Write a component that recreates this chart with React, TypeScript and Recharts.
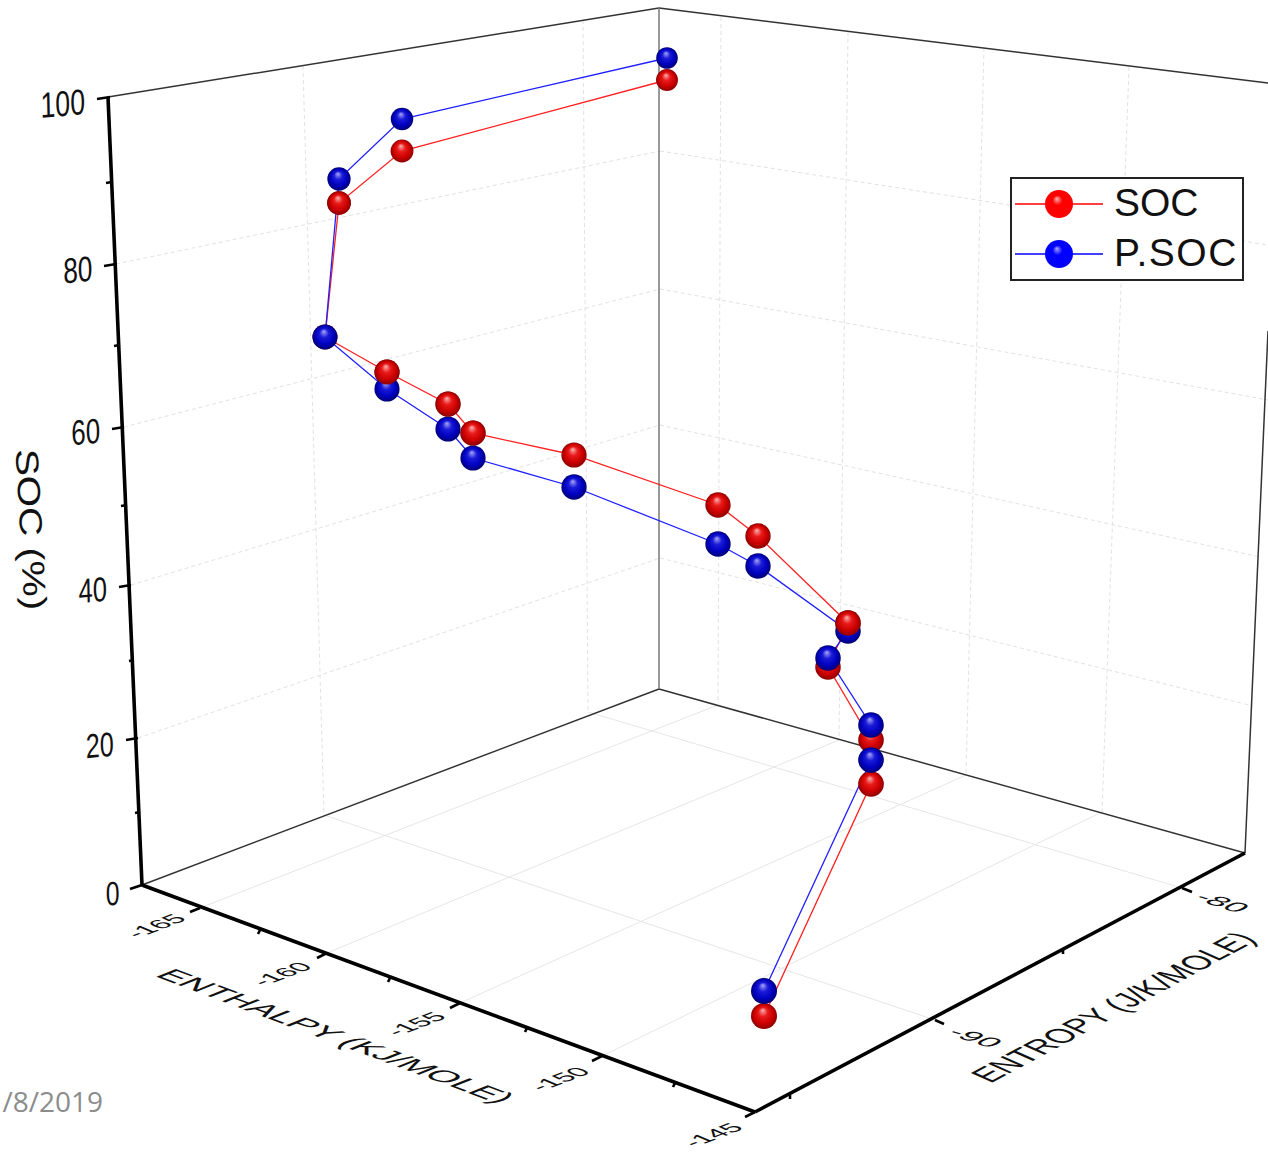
import React from "react";
import { ComposedChart, Line, XAxis, YAxis, ReferenceLine, ReferenceDot, Legend } from "recharts";

// The chart is a 3D plot flattened onto the picture plane: values below are read in that plane
// (horizontal position along the drawing, height for each series) and placed by Recharts' scales.
const planeX = [764, 871, 871, 828, 848, 758, 718, 574, 473, 448, 387, 325, 339, 402, 667];
const socHeight = [1016, 784, 740, 667, 623, 536, 505, 455, 433, 404, 372, 337, 203, 151, 80];
const psocHeight = [991, 760, 725, 658, 631, 566, 544, 487, 458, 429, 389, 337, 179, 119, 58];
const socInFront = [4, 8, 9, 10, 12];

const socTickLabels = ["100", "80", "60", "40", "20", "0"];
const enthalpyTickLabels = ["-165", "-160", "-155", "-150", "-145"];
const entropyTickLabels = ["-90", "-80"];
const seriesOrder = ["SOC", "P.SOC"];

const rows = planeX.map((x, i) => ({
  x,
  soc: socHeight[i],
  psoc: psocHeight[i],
  socFront: socInFront.includes(i) ? socHeight[i] : null,
}));

type Seg = [number, number, number, number];
const wallGrid: Seg[] = [
  [303, 66, 324, 815], [583, 20, 588, 712],
  [721, 17, 718, 703], [848, 32, 839, 740], [984, 48, 966, 775], [1129, 67, 1102, 812],
  [116, 264, 660, 151], [124, 427, 660, 289], [131, 585, 660, 425], [138, 738, 660, 558],
  [660, 151, 1268, 245], [660, 289, 1268, 400], [660, 425, 1260, 557], [660, 558, 1253, 706],
];
const floorGrid: Seg[] = [
  [200, 908, 718, 705], [327, 953, 839, 740], [460, 1003, 966, 775], [602, 1056, 1102, 812],
  [935, 1020, 324, 815], [1182, 888, 588, 712],
];
const thinFrame: Seg[] = [
  [108, 97, 659, 8], [659, 8, 1268, 83], [142, 885, 659, 689], [659, 689, 1245, 853], [1245, 853, 1268, 331],
];
const thickAxes: Seg[] = [
  [108, 97, 142, 885], [142, 885, 755, 1112], [755, 1112, 1245, 853],
];
const tickMarks: Seg[] = [
  [97, 99, 110, 97], [104, 266, 116, 264], [112, 429, 124, 427], [119, 587, 131, 585], [126, 740, 138, 738], [130, 889, 142, 885],
  [106, 183, 112, 182], [114, 346, 120, 345], [121, 506, 127, 505], [129, 661, 134, 660], [135, 813, 140, 812],
  [190, 912, 200, 908], [317, 958, 327, 953], [450, 1008, 460, 1003], [592, 1061, 602, 1056], [745, 1117, 755, 1112],
  [258, 934, 260, 930], [388, 982, 390, 978], [525, 1032, 527, 1028], [673, 1087, 675, 1083],
  [935, 1020, 944, 1024], [1182, 888, 1192, 892], [790, 1095, 790, 1099], [1063, 950, 1063, 954],
];

type Matrix = [number, number, number, number];
const enthalpyMat: Matrix = [1, -0.38, 0.85, 0.36];
const entropyMat: Matrix = [1.25, 0.4, -0.85, 0.4];
const socPlaced: [number, number][] = [[63, 116], [78, 282], [86, 444], [93, 602], [100, 757], [113, 905]];
const enthalpyPlaced: [number, number][] = [[163, 929], [289, 977], [423, 1027], [567, 1082], [720, 1138]];
const entropyPlaced: [number, number][] = [[968, 1041], [1215, 906]];

const tx = (x: number, y: number, m: Matrix, text: string, font: number, key = text) => (
  <ReferenceDot
    key={key}
    x={x}
    y={y}
    r={0}
    ifOverflow="visible"
    shape={(p: any) => (
      <text
        transform={`matrix(${m[0]} ${m[1]} ${m[2]} ${m[3]} ${p.cx} ${p.cy})`}
        textAnchor="middle"
        fontFamily="Liberation Sans"
        fontSize={font}
        fill="#111"
      >
        {text}
      </text>
    )}
  />
);

const ball = (id: string) => (p: any) => {
  if (p.cy == null || p.value == null) return <g key={p.key ?? p.index} />;
  const r = p.cy < 300 ? 10.8 + ((p.cy - 58) / 242) * 1.7 : 12.5 + ((p.cy - 300) / 716) * 0.5;
  return <circle key={p.key ?? p.index} cx={p.cx} cy={p.cy} r={r} fill={`url(#${id})`} />;
};

const seg = (s: Seg, stroke: string, width: number, dash: string | undefined, key: string) => (
  <ReferenceLine
    key={key}
    segment={[{ x: s[0], y: s[1] }, { x: s[2], y: s[3] }]}
    stroke={stroke}
    strokeWidth={width}
    strokeDasharray={dash}
    ifOverflow="visible"
  />
);

const LegendBox = ({ payload }: any) => (
  <div style={{ width: 234, height: 104, boxSizing: "border-box", border: "2px solid #222", background: "#fff", position: "relative" }}>
    {seriesOrder.map((name, i) => {
      const e = (payload || []).find((q: any) => q.value === name);
      if (!e) return null;
      return (
        <div key={name} style={{ position: "absolute", left: 3, top: 3 + i * 50, height: 44, width: 226 }}>
          <svg width={92} height={44} style={{ position: "absolute", left: 0, top: 0 }}>
            <defs>
              <radialGradient id={`lg${i}`} cx="0.5" cy="0.5" r="0.5" fx="0.42" fy="0.3">
                <stop offset="0" stopColor={i === 0 ? "#ffb8b8" : "#a8a8ff"} />
                <stop offset="0.35" stopColor={i === 0 ? "#f00" : "#00f"} />
                <stop offset="1" stopColor={i === 0 ? "#f00" : "#00f"} />
              </radialGradient>
            </defs>
            <line x1={0} x2={88} y1={22} y2={22} stroke={i === 0 ? "#f00" : "#00f"} strokeWidth={1.5} />
            <circle cx={44} cy={22} r={14} fill={`url(#lg${i})`} />
          </svg>
          <span style={{ position: "absolute", left: 99, top: -1, lineHeight: "44px", fontFamily: "Liberation Sans", fontSize: 39, letterSpacing: i === 1 ? 1.5 : 0, color: "#111" }}>
            {name}
          </span>
        </div>
      );
    })}
  </div>
);

export default function App() {
  return (
    <div style={{ position: "absolute", left: 0, top: 0, width: 1268, height: 1153, background: "#fff", overflow: "hidden" }}>
      <ComposedChart width={1268} height={1153} data={rows} margin={{ top: 0, right: 0, bottom: 0, left: 0 }}>
        <defs>
          <radialGradient id="redBall" cx="0.5" cy="0.5" r="0.5" fx="0.45" fy="0.27">
            <stop offset="0" stopColor="#fbb4b4" />
            <stop offset="0.36" stopColor="#e81a1a" />
            <stop offset="0.72" stopColor="#cc0000" />
            <stop offset="1" stopColor="#8c0000" />
          </radialGradient>
          <radialGradient id="blueBall" cx="0.5" cy="0.5" r="0.5" fx="0.45" fy="0.27">
            <stop offset="0" stopColor="#a8a8f6" />
            <stop offset="0.36" stopColor="#1a1ad8" />
            <stop offset="0.72" stopColor="#0000c0" />
            <stop offset="1" stopColor="#000074" />
          </radialGradient>
        </defs>
        <XAxis type="number" dataKey="x" domain={[0, 1268]} hide allowDataOverflow />
        <YAxis type="number" domain={[0, 1153]} reversed hide allowDataOverflow />

        {wallGrid.map((s, i) => seg(s, "#e2e2e2", 1, "4 3", `w${i}`))}
        {floorGrid.map((s, i) => seg(s, "#e6e6e6", 1, undefined, `f${i}`))}
        {thinFrame.map((s, i) => seg(s, "#333", 1.5, undefined, `t${i}`))}
        {seg([659, 8, 659, 689], "#777", 1.5, undefined, "back")}
        {thickAxes.map((s, i) => seg(s, "#000", 3.6, undefined, `a${i}`))}
        {tickMarks.map((s, i) => seg(s, "#000", 2.6, undefined, `k${i}`))}

        {socTickLabels.map((t, i) => tx(socPlaced[i][0], socPlaced[i][1], [0.74, -0.07, 0.02, 1], t, 36 - i * 0.5))}
        {enthalpyTickLabels.map((t, i) => tx(enthalpyPlaced[i][0], enthalpyPlaced[i][1], enthalpyMat, t, 25))}
        {entropyTickLabels.map((t, i) => tx(entropyPlaced[i][0], entropyPlaced[i][1], entropyMat, t, 25))}
        {tx(326, 1040, [1.37, 0.51, -1.18, 0.47], "ENTHALPY (KJ/MOLE)", 24)}
        {tx(1124, 1012, [1.08, -0.58, 1.3, 0.58], "ENTROPY (J/K/MOLE)", 24)}
        {tx(20, 530, [0.07, 1.26, -1, 0.05], "SOC (%)", 32)}
        <ReferenceDot
          x={103}
          y={1112}
          r={0}
          ifOverflow="visible"
          shape={(p: any) => (
            <text x={p.cx} y={p.cy} textAnchor="end" fontFamily="Open Sans" fontSize={28} fill="#8c8c8c">
              /8/2019
            </text>
          )}
        />

        <Line dataKey="soc" name="SOC" stroke="#ff2020" strokeWidth={1.3} dot={ball("redBall")} activeDot={false} isAnimationActive={false} />
        <Line dataKey="psoc" name="P.SOC" stroke="#2020ff" strokeWidth={1.3} dot={ball("blueBall")} activeDot={false} isAnimationActive={false} />
        <Line dataKey="socFront" name="front" legendType="none" stroke="none" dot={ball("redBall")} activeDot={false} isAnimationActive={false} />

        <Legend
          layout="horizontal"
          align="center"
          verticalAlign="middle"
          content={<LegendBox />}
          wrapperStyle={{ left: 1010, top: 177, width: 234, height: 104 }}
        />
      </ComposedChart>
    </div>
  );
}
